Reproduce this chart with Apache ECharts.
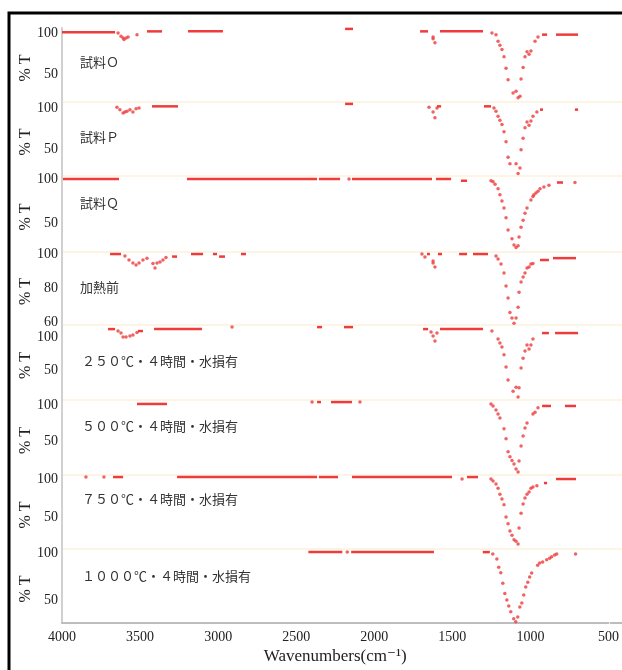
<!DOCTYPE html>
<html>
<head>
<meta charset="utf-8">
<script src="https://cdn.jsdelivr.net/npm/echarts@6/dist/echarts.min.js"></script>
<style>html,body{margin:0;padding:0;background:#fff;}</style>
</head>
<body>
<div id="main" style="width:622px;height:670px;"></div>
<script type="text/javascript">
// 試料名（パネルごと）
var panelNames = ['試料Ｏ', '試料Ｐ', '試料Ｑ', '加熱前',
  '２５０℃・４時間・水損有', '５００℃・４時間・水損有',
  '７５０℃・４時間・水損有', '１０００℃・４時間・水損有'];
var yTicks = [[50, 100], [50, 100], [50, 100], [60, 80, 100],
  [50, 100], [50, 100], [50, 100], [50, 100]];
var xTicks = [4000, 3500, 3000, 2500, 2000, 1500, 1000, 500];

// 平坦部: [波数1, 波数2, %T]
var segO = [[4000, 3661, 101], [3457, 3361, 102], [3195, 2972, 102], [2192, 2141, 105],
  [1713, 1662, 102], [1586, 1311, 102], [934, 902, 98], [845, 704, 98]];
// 点: [波数, %T]
var ptsO = [[3642, 100], [3623, 96], [3610, 94], [3604, 92], [3591, 94], [3578, 95], [3521, 98],
  [1630, 95], [1630, 93], [1618, 88],
  [1254, 100], [1228, 98], [1215, 90], [1203, 85], [1190, 80], [1177, 71], [1164, 57], [1151, 43],
  [1119, 27], [1100, 29], [1087, 21], [1075, 23], [1068, 44], [1055, 58], [1043, 71], [1030, 77],
  [1017, 74], [1005, 78], [979, 90], [960, 95]];

var segP = [[3425, 3259, 102], [2192, 2141, 105], [1605, 1579, 102], [1305, 1260, 102],
  [947, 928, 98], [724, 704, 98]];
var ptsP = [[3649, 101], [3630, 98], [3610, 94], [3598, 95], [3585, 96], [3566, 98], [3547, 95],
  [3527, 99], [3508, 100],
  [1656, 101], [1630, 95], [1618, 88], [1605, 100],
  [1241, 100], [1228, 96], [1215, 90], [1203, 85], [1190, 80], [1177, 71], [1164, 59], [1151, 40],
  [1139, 32], [1100, 32], [1087, 20], [1075, 27], [1068, 49], [1055, 63], [1043, 76], [1030, 83],
  [1017, 79], [1005, 84], [992, 90], [967, 95]];

var segQ = [[3994, 3636, 100], [3202, 2371, 100], [2359, 2224, 100], [2148, 1637, 100],
  [1611, 1515, 100], [1452, 1413, 98], [839, 800, 96]];
var ptsQ = [[2167, 100],
  [1260, 98], [1247, 97], [1234, 94], [1215, 89], [1203, 82], [1190, 75], [1177, 67], [1164, 56],
  [1151, 42], [1126, 32], [1113, 25], [1100, 22], [1087, 24], [1081, 34], [1068, 45], [1055, 53],
  [1043, 61], [1030, 67], [1005, 76], [992, 80], [986, 82], [973, 84], [960, 86], [947, 89],
  [922, 91], [890, 93], [724, 96]];

var segPre = [[3693, 3623, 100], [3297, 3265, 98.5], [3176, 3099, 100], [3036, 3010, 100],
  [2997, 2959, 98.5], [2857, 2825, 100], [1669, 1650, 100], [1599, 1573, 100], [1464, 1413, 100],
  [1375, 1279, 100], [947, 890, 96.5], [864, 717, 97.6]];
var ptsPre = [[3598, 98.8], [3572, 96.5], [3547, 94.7], [3527, 93.5], [3508, 94.7], [3483, 96.5],
  [3457, 97.6], [3419, 94.4], [3406, 91.8], [3393, 94.7], [3374, 95.3], [3355, 96.5], [3336, 97.9],
  [1701, 100], [1682, 98.2], [1630, 95.9], [1630, 94.7], [1618, 92.4],
  [1228, 98.8], [1215, 97.1], [1196, 94.1], [1177, 88.8], [1164, 81.2], [1151, 74.1], [1139, 65.6],
  [1126, 62.4], [1113, 59.4], [1100, 62.4], [1087, 68.8], [1081, 77.6], [1068, 83.5], [1055, 86.5],
  [1043, 88.8], [1030, 91.8], [1017, 92.4], [1005, 94.1], [992, 94.4]];

var seg250 = [[3706, 3661, 112], [3515, 3483, 109], [3412, 3106, 112], [2371, 2339, 115],
  [2199, 2141, 115], [1694, 1662, 112], [1586, 1311, 112], [934, 890, 106], [851, 704, 106]];
var pts250 = [[3642, 109], [3623, 106], [3610, 100], [3591, 100], [3566, 101.5], [3547, 103],
  [3521, 107], [2914, 115],
  [1643, 107.6], [1630, 101.5], [1618, 94], [1605, 106],
  [1254, 109], [1215, 97], [1203, 91], [1190, 85], [1177, 73], [1164, 54.5], [1151, 35], [1119, 18],
  [1100, 24], [1087, 9], [1081, 23], [1068, 53], [1055, 68], [1043, 79], [1030, 88], [1017, 82],
  [1005, 88], [992, 97]];

var seg500 = [[3521, 3329, 101.4], [2371, 2346, 104], [2282, 2148, 104], [934, 877, 98.6],
  [788, 717, 98.6]];
var pts500 = [[2403, 104], [2097, 104],
  [1260, 101.4], [1247, 98.6], [1228, 93], [1215, 87.5], [1203, 82], [1177, 67], [1164, 53],
  [1151, 35], [1139, 28], [1126, 23], [1113, 18], [1100, 11], [1087, 7], [1081, 22], [1068, 43],
  [1055, 57], [1043, 68], [1030, 75], [992, 87.5], [979, 90], [960, 96]];

var seg750 = [[3674, 3610, 102.6], [3265, 2371, 102.6], [2359, 2237, 102.6], [2148, 1509, 102.6],
  [1413, 1343, 102.6], [922, 902, 94.7], [845, 717, 100]];
var pts750 = [[3847, 102.6], [3732, 102.6], [1445, 100],
  [1260, 100], [1247, 97.4], [1228, 93.4], [1215, 88], [1203, 80], [1190, 73.7], [1177, 66],
  [1164, 50], [1151, 41], [1139, 31.6], [1126, 26], [1113, 20], [1100, 18], [1087, 14.5],
  [1081, 35.5], [1068, 55], [1055, 67], [1043, 75], [1030, 80], [1017, 83], [1005, 88],
  [992, 89.5], [967, 91]];

var seg1000 = [[2422, 2205, 101], [2148, 1618, 101], [1305, 1260, 101]];
var pts1000 = [[2173, 101],
  [1241, 98.9], [1215, 93.6], [1203, 85], [1190, 79], [1177, 68], [1164, 57], [1151, 50],
  [1139, 43.6], [1126, 37.5], [1107, 30], [1094, 27], [1081, 32], [1068, 42.6], [1055, 47],
  [1043, 55.3], [1030, 64], [1017, 69], [1005, 74.5], [992, 78.7], [954, 87], [941, 89.4],
  [922, 90.4], [896, 93], [877, 94.5], [864, 96], [845, 98], [832, 98.9], [711, 98.9]];

var allSegs = [segO, segP, segQ, segPre, seg250, seg500, seg750, seg1000];
var allPts = [ptsO, ptsP, ptsQ, ptsPre, pts250, pts500, pts750, pts1000];

// レイアウト
var gridTop = [28, 102, 176, 252, 325, 400, 475, 549];
var gridH = [74, 74, 76, 73, 75, 75, 74, 74];
var yMin = [15.9, 17.1, 17.0, 58.3, 4.6, 2.7, 7.9, 25.6];
var yMax = [106.1, 107.3, 103.4, 101.2, 118.2, 106.9, 105.3, 104.3];
var labelY = [62, 137, 203, 287, 361, 426, 499, 576];
var RED = '#ee3b3b';
var SERIF = '"Liberation Serif", "DejaVu Serif", serif';

var myChart = echarts.init(document.getElementById('main'));

var grids = [], xAxes = [], yAxes = [], series = [], graphics = [];

graphics.push({
  type: 'rect', silent: true,
  shape: { x: 9, y: 13, width: 700, height: 700 },
  style: { fill: 'none', stroke: '#000', lineWidth: 3 }
});

for (var i = 0; i < 8; i++) {
  grids.push({ left: 62, right: 12, top: gridTop[i], height: gridH[i] });
  var last = (i === 7);
  xAxes.push({
    gridIndex: i, type: 'value', min: 500, max: 4000, interval: 500, inverse: true,
    show: last,
    axisLine: { show: true, lineStyle: { color: '#bdbdbd', width: 2 } },
    axisTick: { show: false },
    splitLine: { show: false },
    axisLabel: {
      customValues: xTicks,
      formatter: function (v) { return String(v); },
      color: '#222', fontFamily: SERIF, fontSize: 14, margin: 7
    },
    name: last ? 'Wavenumbers(cm\u207B\u00B9)' : '',
    nameLocation: 'middle', nameGap: 25,
    nameTextStyle: { color: '#222', fontFamily: SERIF, fontSize: 17 }
  });
  yAxes.push({
    gridIndex: i, type: 'value', min: yMin[i], max: yMax[i],
    axisLine: { show: true, lineStyle: { color: '#d0d0d0', width: 2 } },
    axisTick: { show: false },
    splitLine: { show: false },
    axisLabel: { customValues: yTicks[i], color: '#222', fontFamily: SERIF, fontSize: 14, margin: 4 }
  });
  series.push({
    type: 'custom', xAxisIndex: i, yAxisIndex: i,
    encode: { x: [0, 1], y: 2 },
    data: allSegs[i],
    renderItem: function (params, api) {
      var p1 = api.coord([api.value(0), api.value(2)]);
      var p2 = api.coord([api.value(1), api.value(2)]);
      return {
        type: 'line',
        shape: { x1: p1[0], y1: p1[1], x2: p2[0], y2: p2[1] },
        style: { stroke: RED, lineWidth: 2.5 }
      };
    }
  });
  series.push({
    type: 'scatter', xAxisIndex: i, yAxisIndex: i,
    symbolSize: 3.5,
    itemStyle: { color: RED },
    data: allPts[i]
  });
  // パネル間の薄い区切り線
  if (i > 0) {
    graphics.push({
      type: 'line', silent: true,
      shape: { x1: 62, y1: gridTop[i], x2: 622, y2: gridTop[i] },
      style: { stroke: '#fcf5e4', lineWidth: 2 }
    });
  }
  // 縦軸名
  graphics.push({
    type: 'text', silent: true,
    x: 26, y: gridTop[i] + gridH[i] / 2 + 3, rotation: Math.PI / 2,
    style: {
      text: '% T', fill: '#222', fontSize: 16, fontFamily: SERIF,
      align: 'center', verticalAlign: 'middle'
    }
  });
  graphics.push({
    type: 'text', silent: true,
    style: {
      text: panelNames[i], x: i < 4 ? 80 : 82, y: labelY[i],
      fill: '#333', fontSize: 13, fontFamily: '"Noto Sans CJK JP", sans-serif',
      verticalAlign: 'middle'
    }
  });
}
graphics.push({
  type: 'line', silent: true,
  shape: { x1: 610, y1: 623, x2: 622, y2: 623 },
  style: { stroke: '#bdbdbd', lineWidth: 2 }
});

myChart.setOption({
  animation: false,
  backgroundColor: '#fff',
  grid: grids,
  xAxis: xAxes,
  yAxis: yAxes,
  series: series,
  graphic: graphics
});
</script>
</body>
</html>
